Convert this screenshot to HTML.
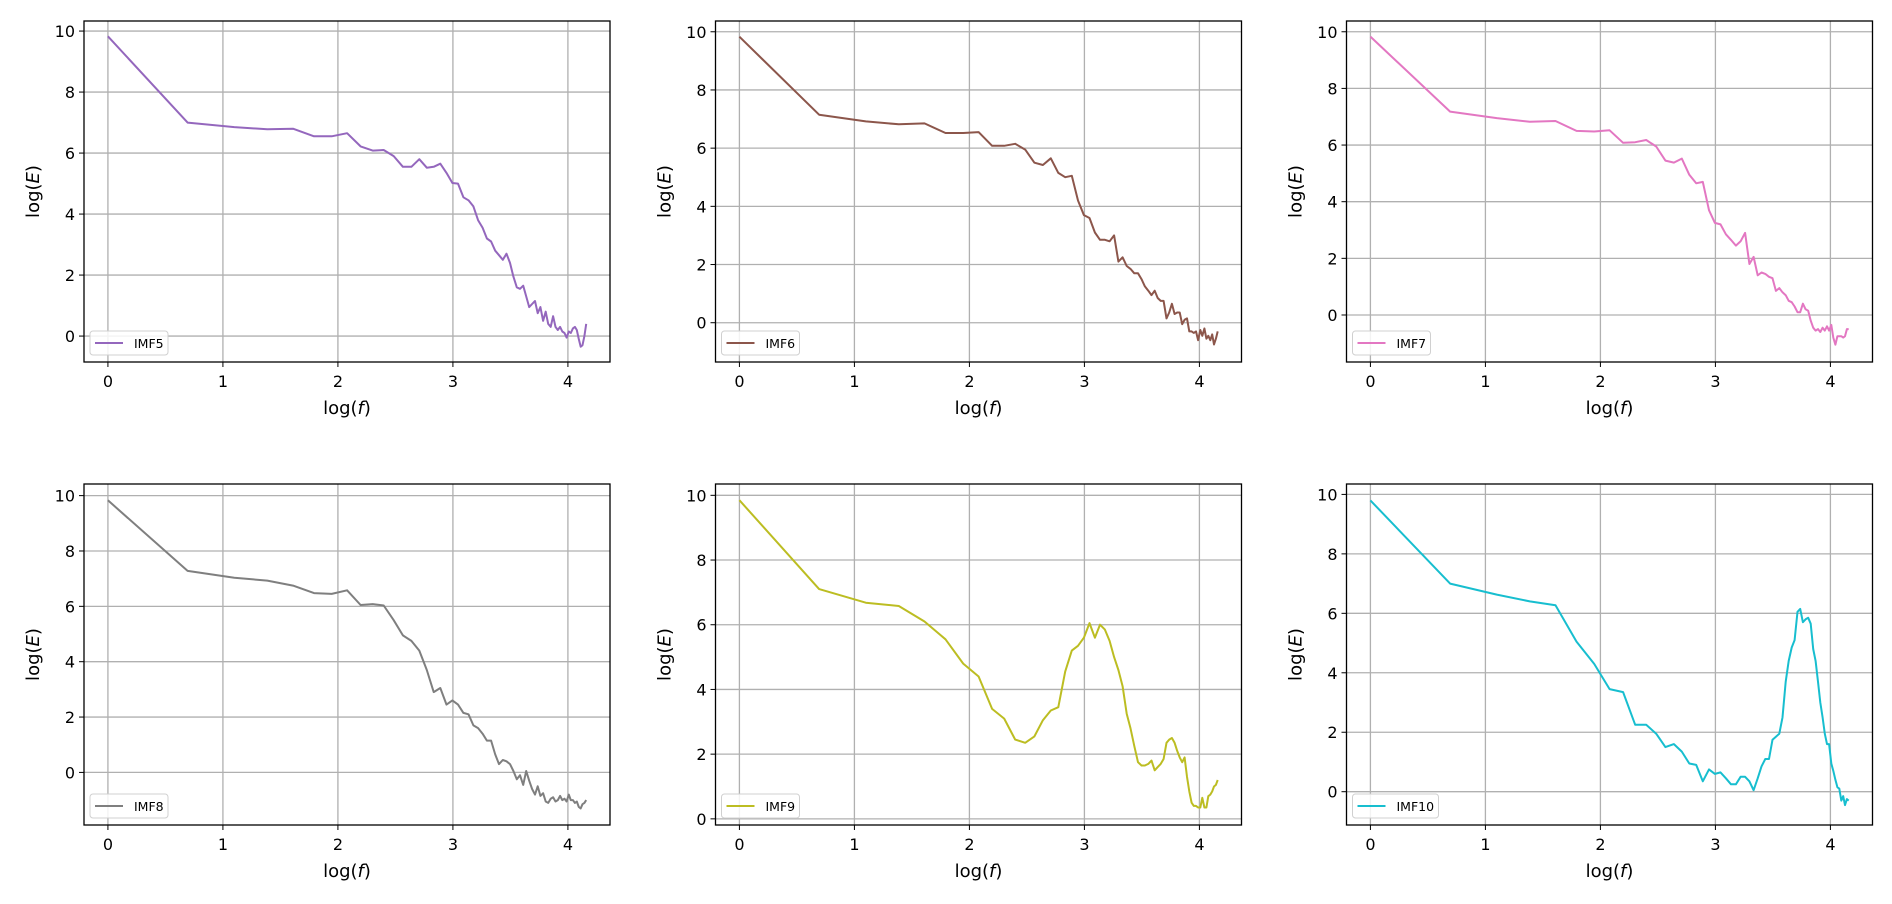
<!DOCTYPE html>
<html><head><meta charset="utf-8">
<style>
html,body{margin:0;padding:0;background:#fff;}
svg{display:block;font-family:"DejaVu Sans","Liberation Sans",sans-serif;}
</style></head>
<body>
<svg id="fig" width="1892" height="904" viewBox="0 0 1892 904" xmlns="http://www.w3.org/2000/svg"></svg>
<script>
const imfNames = ["IMF5","IMF6","IMF7","IMF8","IMF9","IMF10"];
const imfColors = ["#9467bd","#8c564b","#e377c2","#7f7f7f","#bcbd22","#17becf"];
const yTickValues = [0,2,4,6,8,10];
const xTickValues = [0,1,2,3,4];
const imf5 = [9.83,7.0,6.85,6.78,6.8,6.55,6.55,6.65,6.22,6.08,6.1,5.9,5.55,5.55,5.8,5.52,5.55,5.65,5.35,5.02,5.0,4.55,4.45,4.25,3.8,3.55,3.2,3.1,2.8,2.65,2.5,2.7,2.4,1.95,1.6,1.55,1.65,1.3,0.95,1.05,1.15,0.75,0.95,0.5,0.8,0.4,0.3,0.65,0.3,0.2,0.3,0.15,0.1,-0.05,0.15,0.1,0.25,0.3,0.2,-0.1,-0.35,-0.3,0.0,0.4];
const imf6 = [9.83,7.15,6.92,6.82,6.85,6.52,6.52,6.55,6.08,6.08,6.15,5.95,5.5,5.42,5.65,5.15,5.0,5.05,4.2,3.7,3.6,3.1,2.85,2.85,2.8,3.0,2.1,2.25,1.95,1.85,1.7,1.7,1.5,1.25,1.1,0.95,1.1,0.85,0.75,0.75,0.15,0.35,0.65,0.3,0.35,0.35,-0.05,0.1,0.15,-0.3,-0.3,-0.35,-0.3,-0.6,-0.25,-0.45,-0.2,-0.55,-0.45,-0.6,-0.4,-0.75,-0.55,-0.3];
const imf7 = [9.83,7.18,6.95,6.82,6.85,6.5,6.48,6.52,6.08,6.1,6.18,5.95,5.45,5.38,5.52,4.95,4.65,4.7,3.7,3.25,3.2,2.85,2.65,2.45,2.6,2.9,1.8,2.05,1.4,1.5,1.45,1.35,1.3,0.85,0.95,0.8,0.7,0.5,0.45,0.3,0.1,0.1,0.4,0.2,0.15,-0.2,-0.45,-0.55,-0.5,-0.6,-0.45,-0.55,-0.4,-0.55,-0.35,-0.8,-1.05,-0.75,-0.75,-0.75,-0.8,-0.75,-0.5,-0.5];
const imf8 = [9.83,7.28,7.03,6.93,6.75,6.48,6.45,6.58,6.05,6.08,6.03,5.5,4.95,4.75,4.4,3.7,2.9,3.05,2.45,2.6,2.45,2.15,2.1,1.7,1.6,1.4,1.15,1.15,0.65,0.3,0.45,0.4,0.3,0.05,-0.25,-0.1,-0.45,0.05,-0.3,-0.6,-0.8,-0.5,-0.85,-0.75,-1.05,-1.1,-0.95,-0.9,-1.05,-1.0,-0.85,-1.0,-0.95,-1.05,-0.8,-1.0,-1.0,-1.1,-1.05,-1.25,-1.3,-1.15,-1.1,-1.0];
const imf9 = [9.85,7.1,6.68,6.58,6.1,5.55,4.8,4.4,3.4,3.1,2.45,2.35,2.55,3.05,3.35,3.45,4.55,5.2,5.35,5.6,6.05,5.6,6.0,5.85,5.5,5.0,4.6,4.1,3.25,2.8,2.25,1.75,1.65,1.65,1.7,1.8,1.5,1.6,1.7,1.85,2.35,2.45,2.5,2.35,2.1,1.9,1.75,1.9,1.3,0.85,0.5,0.4,0.4,0.35,0.35,0.65,0.35,0.35,0.7,0.75,0.85,1.0,1.05,1.2];
const imf10 = [9.8,7.0,6.63,6.4,6.27,5.05,4.3,3.45,3.35,2.25,2.25,1.95,1.5,1.6,1.35,0.95,0.9,0.35,0.75,0.6,0.65,0.45,0.25,0.25,0.5,0.5,0.35,0.05,0.45,0.85,1.1,1.1,1.75,1.85,1.95,2.5,3.7,4.4,4.85,5.1,6.05,6.15,5.7,5.8,5.85,5.65,4.8,4.4,3.7,3.0,2.5,1.95,1.6,1.6,0.95,0.7,0.4,0.15,0.1,-0.3,-0.15,-0.45,-0.25,-0.3];
const yLimits = [[-0.85,10.33],[-1.35,10.37],[-1.66,10.38],[-1.9,10.42],[-0.19,10.35],[-1.12,10.35]];
const allSeries = [imf5,imf6,imf7,imf8,imf9,imf10];

const NS = "http://www.w3.org/2000/svg";
const fig = document.getElementById('fig');
function mk(tag, attrs, parent){
  const e = document.createElementNS(NS, tag);
  for (const k in attrs) e.setAttribute(k, attrs[k]);
  parent.appendChild(e);
  return e;
}
const colLeft = [84, 715.5, 1346.5];
const rowTop = [21, 484];
const W = 526, H = 341;
const XMIN = -0.208, XMAX = 4.366;

allSeries.forEach((vals, p) => {
  const L = colLeft[p % 3], T = rowTop[Math.floor(p / 3)];
  const [ymin, ymax] = yLimits[p];
  const xs = v => L + (v - XMIN) / (XMAX - XMIN) * W;
  const ys = v => T + H - (v - ymin) / (ymax - ymin) * H;
  const g = mk('g', {}, fig);
  
  
  const grid = mk('g', {stroke:'#b0b0b0', 'stroke-width':'1.3'}, g);
  
  
  xTickValues.forEach(t => {
    mk('line', {x1:xs(t), x2:xs(t), y1:T, y2:T+H}, grid);
    const tk = mk('line', {x1:xs(t), x2:xs(t), y1:T+H, y2:T+H+5, stroke:'#000','stroke-width':'1'}, g);
    const lb = mk('text', {x:xs(t), y:T+H+25, 'font-size':'16', 'text-anchor':'middle', fill:'#000'}, g);
    lb.textContent = t;
    
    
  });
  yTickValues.forEach(t => {
    mk('line', {x1:L, x2:L+W, y1:ys(t), y2:ys(t)}, grid);
    mk('line', {x1:L-5, x2:L, y1:ys(t), y2:ys(t), stroke:'#000','stroke-width':'1'}, g);
    const lb = mk('text', {x:L-9, y:ys(t)+6, 'font-size':'16', 'text-anchor':'end', fill:'#000'}, g);
    lb.textContent = t;
    
    
  });
  const pts = vals.map((v, i) => xs(Math.log(i + 1)).toFixed(1) + ',' + ys(v).toFixed(1)).join(' ');
  const line = mk('polyline', {points:pts, fill:'none', stroke:imfColors[p], 'stroke-width':'2', 'stroke-linejoin':'round'}, g);
  
  
  const frame = mk('rect', {x:L, y:T, width:W, height:H, fill:'none', stroke:'#000', 'stroke-width':'1.3'}, g);
  
  
  // legend
  const lg = mk('g', {}, g);
  
  
  const bw = imfNames[p].length > 4 ? 86 : 78;
  mk('rect', {x:L+6, y:T+H-31, width:bw, height:24, rx:3, fill:'#fff', 'fill-opacity':'0.85', stroke:'#d0d0d0', 'stroke-width':'1'}, lg);
  mk('line', {x1:L+11, x2:L+39, y1:T+H-19, y2:T+H-19, stroke:imfColors[p], 'stroke-width':'2'}, lg);
  const lt = mk('text', {x:L+50, y:T+H-14, 'font-size':'12.5', fill:'#000'}, lg);
  lt.textContent = imfNames[p];
  
  
  // axis labels
  const xl = mk('text', {x:L+W/2, y:T+H+52, 'font-size':'18', 'text-anchor':'middle', fill:'#000'}, g);
  xl.innerHTML = 'log(<tspan font-style="italic">f</tspan>)';
  
  
  const yl = mk('text', {x:0, y:0, 'font-size':'18', 'text-anchor':'middle', fill:'#000', transform:'translate(' + (L-45) + ',' + (T+H/2) + ') rotate(-90)'}, g);
  yl.innerHTML = 'log(<tspan font-style="italic">E</tspan>)';
  
  
});
</script>
</body></html>
